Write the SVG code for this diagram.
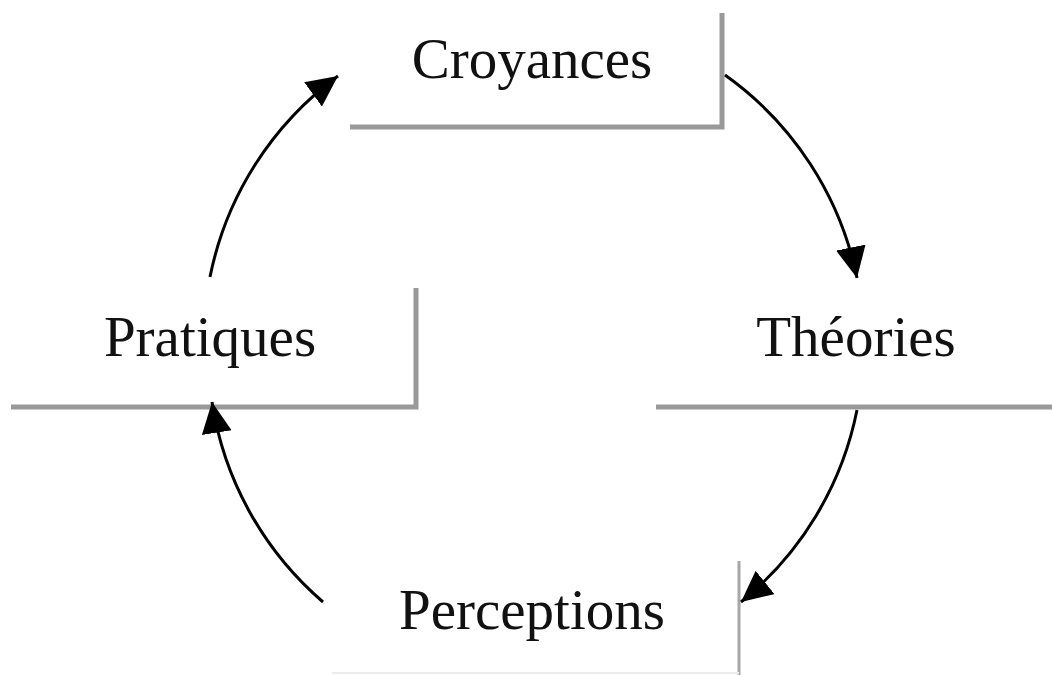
<svg xmlns="http://www.w3.org/2000/svg" width="1052" height="675" viewBox="0 0 1052 675">
<defs>
<style>
.lbl{font-family:"Liberation Serif","Times New Roman",serif;font-size:57px;fill:#111}
.frame{fill:none;stroke:#999;stroke-width:5}
.frame2{fill:none;stroke:#a6a6a6;stroke-width:3}
.conn{fill:none;stroke:#000;stroke-width:3}
</style>
<marker id="ah" markerUnits="userSpaceOnUse" markerWidth="34" markerHeight="32" refX="31" refY="15" orient="auto">
<path d="M0,0 L31,15 L0,30 Z" fill="#000"/>
</marker>
</defs>
<rect width="1052" height="675" fill="#fff"/>
<g id="croyances">
<polyline class="frame" points="350,127 722,127 722,13"/>
<text class="lbl" x="532" y="78" text-anchor="middle">Croyances</text>
</g>
<g id="theories">
<line class="frame" x1="656" y1="407" x2="1052" y2="407"/>
<text class="lbl" x="856" y="356" text-anchor="middle">Théories</text>
</g>
<g id="perceptions">
<line class="frame2" x1="739" y1="561" x2="739" y2="675"/>
<line x1="332" y1="673" x2="739" y2="673" stroke="#ececec" stroke-width="2"/>
<text class="lbl" x="532" y="629" text-anchor="middle">Perceptions</text>
</g>
<g id="pratiques">
<polyline class="frame" points="11,407 416,407 416,288"/>
<text class="lbl" x="210" y="356" text-anchor="middle">Pratiques</text>
</g>
<g id="connectors">
<path class="conn" d="M210,277 A330,330 0 0 1 338,76" marker-end="url(#ah)"/>
<path class="conn" d="M725,75 A330,330 0 0 1 857,278" marker-end="url(#ah)"/>
<path class="conn" d="M857,410 A330,330 0 0 1 741,602" marker-end="url(#ah)"/>
<path class="conn" d="M323,602 A330,330 0 0 1 212,402" marker-end="url(#ah)"/>
</g>
</svg>
